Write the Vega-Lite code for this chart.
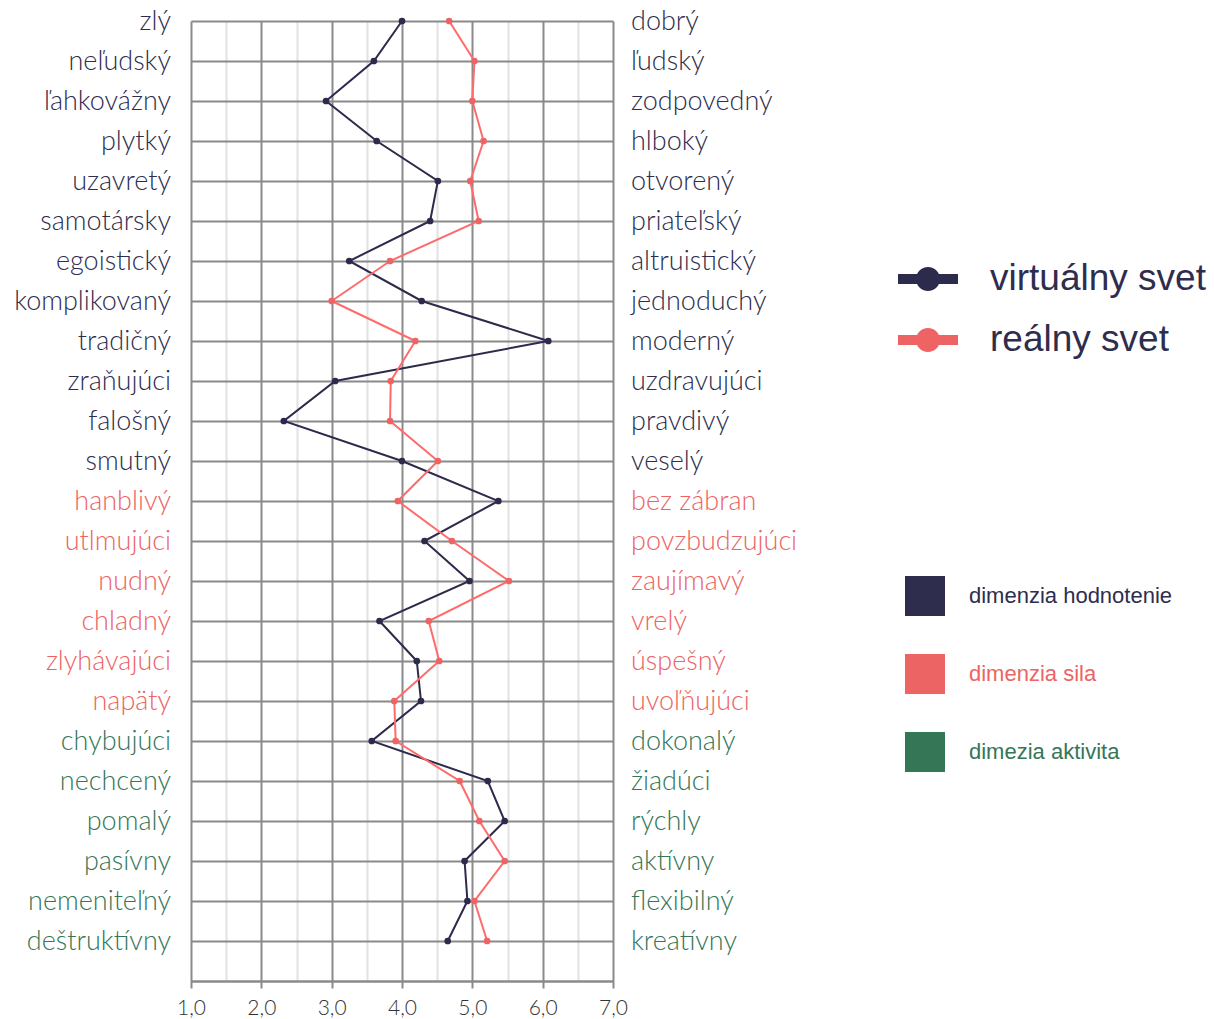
{
  "$schema": "https://vega.github.io/schema/vega-lite/v6.json",
  "width": 422,
  "height": 960,
  "autosize": {"type": "none"},
  "padding": {"left": 191, "top": 21, "right": 601, "bottom": 38},
  "config": {"view": {"stroke": null}, "background": "white"},
  "datasets": {
    "profile": [
      {"idx": 0, "series": "virtuálny svet", "value": 4.00}, {"idx": 0, "series": "reálny svet", "value": 4.67},
      {"idx": 1, "series": "virtuálny svet", "value": 3.60}, {"idx": 1, "series": "reálny svet", "value": 5.03},
      {"idx": 2, "series": "virtuálny svet", "value": 2.92}, {"idx": 2, "series": "reálny svet", "value": 5.00},
      {"idx": 3, "series": "virtuálny svet", "value": 3.64}, {"idx": 3, "series": "reálny svet", "value": 5.16},
      {"idx": 4, "series": "virtuálny svet", "value": 4.51}, {"idx": 4, "series": "reálny svet", "value": 4.97},
      {"idx": 5, "series": "virtuálny svet", "value": 4.40}, {"idx": 5, "series": "reálny svet", "value": 5.09},
      {"idx": 6, "series": "virtuálny svet", "value": 3.25}, {"idx": 6, "series": "reálny svet", "value": 3.83},
      {"idx": 7, "series": "virtuálny svet", "value": 4.28}, {"idx": 7, "series": "reálny svet", "value": 3.00},
      {"idx": 8, "series": "virtuálny svet", "value": 6.08}, {"idx": 8, "series": "reálny svet", "value": 4.19},
      {"idx": 9, "series": "virtuálny svet", "value": 3.05}, {"idx": 9, "series": "reálny svet", "value": 3.84},
      {"idx": 10, "series": "virtuálny svet", "value": 2.32}, {"idx": 10, "series": "reálny svet", "value": 3.83},
      {"idx": 11, "series": "virtuálny svet", "value": 4.00}, {"idx": 11, "series": "reálny svet", "value": 4.51},
      {"idx": 12, "series": "virtuálny svet", "value": 5.37}, {"idx": 12, "series": "reálny svet", "value": 3.94},
      {"idx": 13, "series": "virtuálny svet", "value": 4.32}, {"idx": 13, "series": "reálny svet", "value": 4.71},
      {"idx": 14, "series": "virtuálny svet", "value": 4.96}, {"idx": 14, "series": "reálny svet", "value": 5.52},
      {"idx": 15, "series": "virtuálny svet", "value": 3.68}, {"idx": 15, "series": "reálny svet", "value": 4.38},
      {"idx": 16, "series": "virtuálny svet", "value": 4.21}, {"idx": 16, "series": "reálny svet", "value": 4.53},
      {"idx": 17, "series": "virtuálny svet", "value": 4.27}, {"idx": 17, "series": "reálny svet", "value": 3.89},
      {"idx": 18, "series": "virtuálny svet", "value": 3.57}, {"idx": 18, "series": "reálny svet", "value": 3.91},
      {"idx": 19, "series": "virtuálny svet", "value": 5.22}, {"idx": 19, "series": "reálny svet", "value": 4.82},
      {"idx": 20, "series": "virtuálny svet", "value": 5.46}, {"idx": 20, "series": "reálny svet", "value": 5.10},
      {"idx": 21, "series": "virtuálny svet", "value": 4.89}, {"idx": 21, "series": "reálny svet", "value": 5.46},
      {"idx": 22, "series": "virtuálny svet", "value": 4.93}, {"idx": 22, "series": "reálny svet", "value": 5.03},
      {"idx": 23, "series": "virtuálny svet", "value": 4.65}, {"idx": 23, "series": "reálny svet", "value": 5.21}
    ],
    "labels": [
      {"idx": 0, "left": "zlý", "right": "dobrý", "dim": "dimenzia hodnotenie"},
      {"idx": 1, "left": "neľudský", "right": "ľudský", "dim": "dimenzia hodnotenie"},
      {"idx": 2, "left": "ľahkovážny", "right": "zodpovedný", "dim": "dimenzia hodnotenie"},
      {"idx": 3, "left": "plytký", "right": "hlboký", "dim": "dimenzia hodnotenie"},
      {"idx": 4, "left": "uzavretý", "right": "otvorený", "dim": "dimenzia hodnotenie"},
      {"idx": 5, "left": "samotársky", "right": "priateľský", "dim": "dimenzia hodnotenie"},
      {"idx": 6, "left": "egoistický", "right": "altruistický", "dim": "dimenzia hodnotenie"},
      {"idx": 7, "left": "komplikovaný", "right": "jednoduchý", "dim": "dimenzia hodnotenie"},
      {"idx": 8, "left": "tradičný", "right": "moderný", "dim": "dimenzia hodnotenie"},
      {"idx": 9, "left": "zraňujúci", "right": "uzdravujúci", "dim": "dimenzia hodnotenie"},
      {"idx": 10, "left": "falošný", "right": "pravdivý", "dim": "dimenzia hodnotenie"},
      {"idx": 11, "left": "smutný", "right": "veselý", "dim": "dimenzia hodnotenie"},
      {"idx": 12, "left": "hanblivý", "right": "bez zábran", "dim": "dimenzia sila"},
      {"idx": 13, "left": "utlmujúci", "right": "povzbudzujúci", "dim": "dimenzia sila"},
      {"idx": 14, "left": "nudný", "right": "zaujímavý", "dim": "dimenzia sila"},
      {"idx": 15, "left": "chladný", "right": "vrelý", "dim": "dimenzia sila"},
      {"idx": 16, "left": "zlyhávajúci", "right": "úspešný", "dim": "dimenzia sila"},
      {"idx": 17, "left": "napätý", "right": "uvoľňujúci", "dim": "dimenzia sila"},
      {"idx": 18, "left": "chybujúci", "right": "dokonalý", "dim": "dimezia aktivita"},
      {"idx": 19, "left": "nechcený", "right": "žiadúci", "dim": "dimezia aktivita"},
      {"idx": 20, "left": "pomalý", "right": "rýchly", "dim": "dimezia aktivita"},
      {"idx": 21, "left": "pasívny", "right": "aktívny", "dim": "dimezia aktivita"},
      {"idx": 22, "left": "nemeniteľný", "right": "flexibilný", "dim": "dimezia aktivita"},
      {"idx": 23, "left": "deštruktívny", "right": "kreatívny", "dim": "dimezia aktivita"}
    ]
  },
  "layer": [
    {
      "data": {"name": "profile"},
      "mark": {"type": "line", "strokeWidth": 2},
      "encoding": {
        "x": {
          "field": "value", "type": "quantitative",
          "scale": {"domain": [1, 7], "nice": false, "zero": false},
          "axis": {
            "title": null, "tickCount": 40,
            "values": [1, 1.5, 2, 2.5, 3, 3.5, 4, 4.5, 5, 5.5, 6, 6.5, 7],
            "labelExpr": "datum.value % 1 == 0 ? replace(format(datum.value, '.1f'), '.', ',') : ''",
            "labelFont": "Lato", "labelFontSize": 21, "labelFontWeight": 300, "labelColor": "#333333",
            "labelPadding": 9, "labelFlush": false, "labelOverlap": false,
            "domainColor": "#8a8a8a", "domainWidth": 2,
            "tickColor": "#8a8a8a", "tickWidth": 2, "tickSize": 7,
            "tickOpacity": {"condition": {"test": "datum.value % 1 != 0", "value": 0}, "value": 1},
            "grid": true, "gridWidth": 2,
            "gridColor": {"condition": {"test": "datum.value % 1 != 0", "value": "#e2e2e2"}, "value": "#8a8a8a"}
          }
        },
        "y": {
          "field": "idx", "type": "quantitative",
          "scale": {"domain": [0, 24], "nice": false, "zero": false, "reverse": true},
          "axis": {
            "title": null, "tickCount": 40,
            "values": [0, 1, 2, 3, 4, 5, 6, 7, 8, 9, 10, 11, 12, 13, 14, 15, 16, 17, 18, 19, 20, 21, 22, 23, 24],
            "labels": false, "ticks": false, "domain": false,
            "grid": true, "gridColor": "#8a8a8a", "gridWidth": 2
          }
        },
        "stroke": {
          "field": "series", "type": "nominal", "legend": null,
          "scale": {"domain": ["reálny svet", "virtuálny svet"], "range": ["#ff6b6b", "#2d2b4c"]}
        },
        "detail": {"field": "series"},
        "order": {"field": "idx", "type": "quantitative"}
      }
    },
    {
      "data": {"name": "profile"},
      "mark": {"type": "point", "filled": true, "size": 45, "opacity": 1},
      "encoding": {
        "x": {"field": "value", "type": "quantitative"},
        "y": {"field": "idx", "type": "quantitative"},
        "color": {
          "field": "series", "type": "nominal",
          "scale": {"domain": ["virtuálny svet", "reálny svet"], "range": ["#2d2b4c", "#ee6464"]},
          "legend": {
            "orient": "none", "legendX": 707, "legendY": 228, "title": null, "padding": 0,
            "symbolType": "M-1,-0.17L1,-0.17L1,0.17L-1,0.17Z M0.4,0 A0.4,0.4 0 1,1 -0.4,0 A0.4,0.4 0 1,1 0.4,0Z",
            "symbolSize": 3600, "symbolStrokeWidth": 0, "symbolOpacity": 1,
            "labelFont": "Liberation Sans", "labelFontSize": 37, "labelColor": "#2e2d4d",
            "labelOffset": 32, "rowPadding": 13, "labelLimit": 400
          }
        }
      }
    },
    {
      "data": {"name": "labels"},
      "mark": {"type": "text", "align": "right", "baseline": "middle", "dx": -20, "dy": 1, "font": "Lato", "fontSize": 27, "fontWeight": 300},
      "encoding": {
        "x": {"datum": 1, "type": "quantitative"},
        "y": {"field": "idx", "type": "quantitative"},
        "text": {"field": "left"},
        "fill": {
          "field": "dim", "type": "nominal",
          "scale": {"domain": ["dimenzia hodnotenie", "dimenzia sila", "dimezia aktivita"], "range": ["#2e2d4d", "#ec6464", "#357657"]},
          "legend": {
            "orient": "none", "legendX": 714, "legendY": 555, "title": null, "padding": 0,
            "symbolType": "square", "symbolSize": 1600, "symbolStrokeWidth": 0, "symbolOpacity": 1,
            "labelFont": "Liberation Sans", "labelFontSize": 22, "labelLimit": 400,
            "labelColor": {"expr": "datum.value == 'dimenzia sila' ? '#ec6464' : datum.value == 'dimezia aktivita' ? '#357657' : '#2e2d4d'"},
            "labelOffset": 24, "rowPadding": 38
          }
        }
      }
    },
    {
      "data": {"name": "labels"},
      "mark": {"type": "text", "align": "left", "baseline": "middle", "dx": 18, "dy": 1, "font": "Lato", "fontSize": 27, "fontWeight": 300},
      "encoding": {
        "x": {"datum": 7, "type": "quantitative"},
        "y": {"field": "idx", "type": "quantitative"},
        "text": {"field": "right"},
        "fill": {"field": "dim", "type": "nominal"}
      }
    }
  ]
}
